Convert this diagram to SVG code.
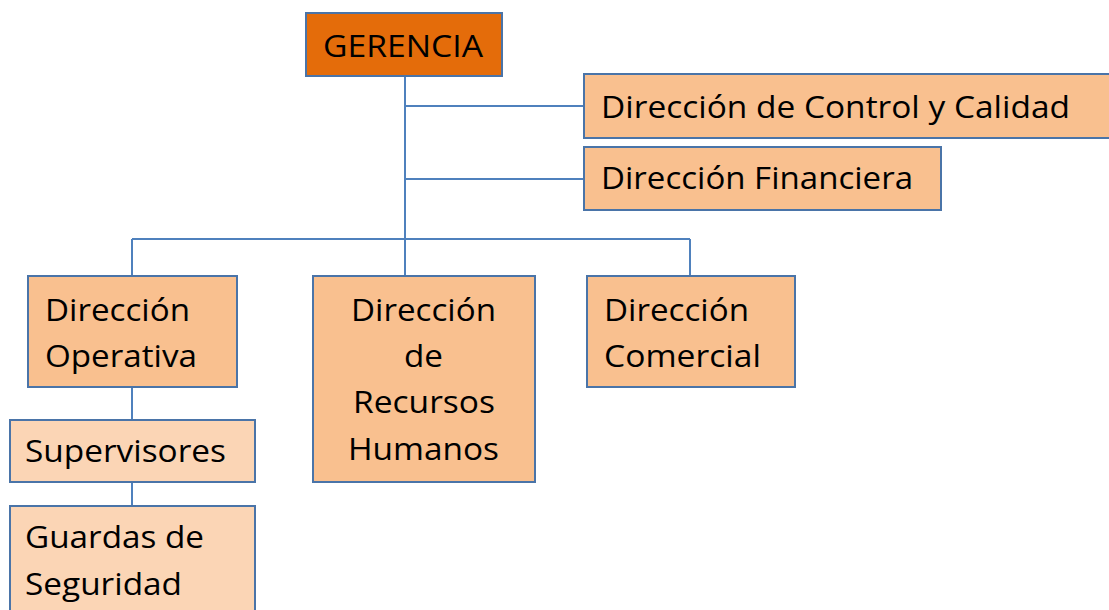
<svg xmlns="http://www.w3.org/2000/svg" width="1109" height="610" viewBox="0 0 1109 610">
<style>
.box{stroke:#4A74A8;stroke-width:2}
.top{fill:#E46C0A}
.mid{fill:#F9C08F}
.low{fill:#FBD5B5}
.conn{stroke:#4F81BD;stroke-width:2;fill:none}
text{font-family:"Open Sans","Noto Sans",sans-serif;font-size:31px;fill:#000}
</style>
<rect width="1109" height="610" fill="#fff"/>
<g id="connectors">
<path class="conn" d="M405 76V240M405 106H584M405 179H584M132 239H690M132 239V276M405 239V276M690 239V276M132 387V420M132 482V506"/>
</g>
<g id="gerencia">
<rect class="box top" x="306" y="13" width="196" height="63"/>
<text x="323" y="57" textLength="160" lengthAdjust="spacingAndGlyphs">GERENCIA</text>
</g>
<g id="control">
<rect class="box mid" x="584" y="74" width="530" height="64"/>
<text x="601" y="118" textLength="469" lengthAdjust="spacingAndGlyphs">Dirección de Control y Calidad</text>
</g>
<g id="financiera">
<rect class="box mid" x="584" y="147" width="357" height="63"/>
<text x="601" y="189" textLength="312" lengthAdjust="spacingAndGlyphs">Dirección Financiera</text>
</g>
<g id="operativa">
<rect class="box mid" x="28" y="276" width="209" height="111"/>
<text x="45" y="321" textLength="145" lengthAdjust="spacingAndGlyphs">Dirección</text>
<text x="45" y="367" textLength="152" lengthAdjust="spacingAndGlyphs">Operativa</text>
</g>
<g id="rrhh">
<rect class="box mid" x="313" y="276" width="222" height="206"/>
<text x="351" y="321" textLength="145" lengthAdjust="spacingAndGlyphs">Dirección</text>
<text x="404" y="367" textLength="39" lengthAdjust="spacingAndGlyphs">de</text>
<text x="353" y="413" textLength="142" lengthAdjust="spacingAndGlyphs">Recursos</text>
<text x="348" y="460" textLength="151" lengthAdjust="spacingAndGlyphs">Humanos</text>
</g>
<g id="comercial">
<rect class="box mid" x="587" y="276" width="208" height="111"/>
<text x="604" y="321" textLength="145" lengthAdjust="spacingAndGlyphs">Dirección</text>
<text x="604" y="367" textLength="157" lengthAdjust="spacingAndGlyphs">Comercial</text>
</g>
<g id="supervisores">
<rect class="box low" x="10" y="420" width="245" height="62"/>
<text x="25" y="462" textLength="201" lengthAdjust="spacingAndGlyphs">Supervisores</text>
</g>
<g id="guardas">
<rect class="box low" x="10" y="506" width="245" height="110"/>
<text x="25" y="548" textLength="179" lengthAdjust="spacingAndGlyphs">Guardas de</text>
<text x="25" y="595" textLength="157" lengthAdjust="spacingAndGlyphs">Seguridad</text>
</g>
</svg>
